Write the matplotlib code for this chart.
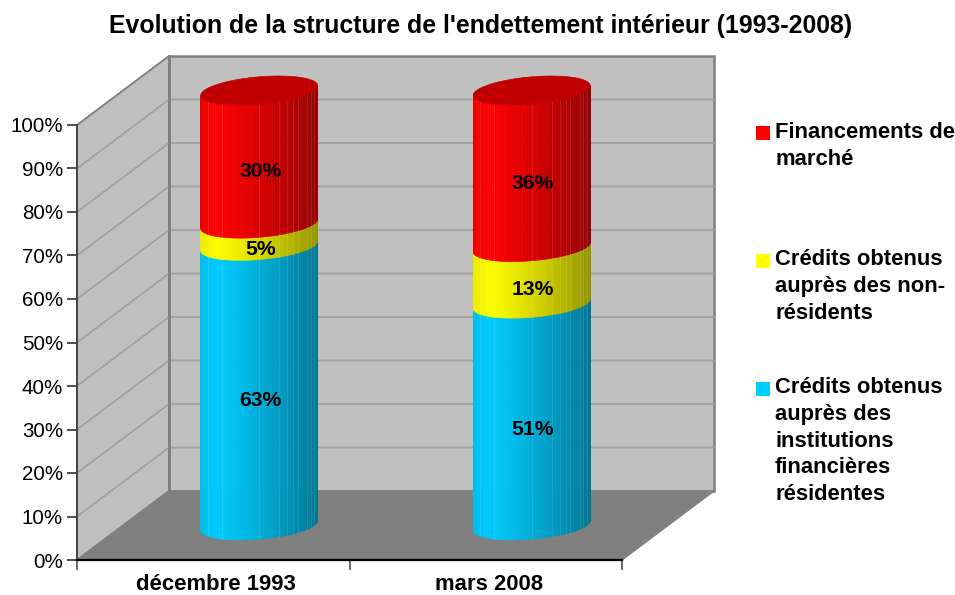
"""Stacked 100% cylinder chart drawn on a hand-made 3D projection."""
import numpy as np
import matplotlib
matplotlib.use("Agg")
import matplotlib.pyplot as plt
from matplotlib.patches import Polygon, Rectangle
from matplotlib.ticker import PercentFormatter

plt.rcParams["font.family"] = ["Liberation Sans", "DejaVu Sans"]

title = "Evolution de la structure de l'endettement intérieur (1993-2008)"
categories = ["décembre 1993", "mars 2008"]
residents = [63, 51]
non_residents = [5, 13]
market = [30, 36]
series = [residents, non_residents, market]
series_colors = [(0, 204, 255), (255, 255, 0), (255, 0, 0)]
legend_labels = [
    "Financements de\nmarché",
    "Crédits obtenus\nauprès des non-\nrésidents",
    "Crédits obtenus\nauprès des\ninstitutions\nfinancières\nrésidentes",
]
legend_colors = ["#ff0000", "#ffff00", "#00ccff"]
legend_tops = [122, 249, 377]   # text top, px from top of figure
square_tops = [126, 254, 382]

W, H = 955, 595
fig = plt.figure(figsize=(W / 100, H / 100), dpi=100, facecolor="white")
# axes = the front plane of the 3D box
L, R, T, B = 77, 622, 125, 560
ax = fig.add_axes([L / W, 1 - B / H, (R - L) / W, (B - T) / H])
ax.set_xlim(0, 2)
ax.set_ylim(0, 100)
ax.patch.set_visible(False)

# depth offset of the back wall, in data units
DX = 92 / ((R - L) / 2)
DY = 69 / ((B - T) / 100)
RAD_X, RAD_D = 0.2026, 0.21    # cylinder radius (x units, depth fraction)
SEAMS = [0.06, 0.18, 0.5, 0.67, 0.74, 0.79, 0.83, 0.91, 0.94, 0.97]


def proj(x, depth, v):
    return x + depth * DX, v + depth * DY


def add_poly(pts, **kw):
    ax.add_patch(Polygon(pts, closed=True, clip_on=False, **kw))


# walls and floor
wall = "#c0c0c0"
edge = "#808080"
add_poly([proj(0, 1, 0), proj(2, 1, 0), proj(2, 1, 100), proj(0, 1, 100)],
         fc=wall, ec=edge, lw=1.8, zorder=1)
add_poly([proj(0, 0, 0), proj(0, 1, 0), proj(0, 1, 100), proj(0, 0, 100)],
         fc=wall, ec=edge, lw=1.4, zorder=1)
add_poly([proj(0, 0, 0), proj(2, 0, 0), proj(2, 1, 0), proj(0, 1, 0)],
         fc=edge, ec=edge, lw=1, zorder=1.5)
for v in range(10, 100, 10):
    xs, ys = zip(proj(0, 0, v), proj(0, 1, v), proj(2, 1, v))
    ax.plot(xs, ys, color="#a0a0a0", lw=1.3, clip_on=False, zorder=1.2)
xs, ys = zip(proj(0, 1, 0), proj(0, 1, 100))
ax.plot(xs, ys, color=edge, lw=1.8, clip_on=False, zorder=1.3)


def surface(cx, t):
    depth = 0.5 - RAD_D * np.sin(t)
    return cx + RAD_X * np.cos(t) + depth * DX, depth


# silhouette angle of the projected cylinder
t0 = np.arctan(-RAD_D * DX / RAD_X)
ts = np.linspace(np.pi + t0, t0, 61)

for i, cat in enumerate(categories):
    cx = i + 0.5
    vals = [s[i] for s in series]
    tops = np.cumsum(vals) / sum(vals) * 100
    bots = np.r_[0, tops[:-1]]
    px, dep = surface(cx, ts)
    umin, umax = px.min(), px.max()
    for v0, v1, col in zip(bots, tops, series_colors):
        for k in range(len(ts) - 1):
            u = ((px[k] + px[k + 1]) / 2 - umin) / (umax - umin)
            shade = 0.93 + u * 0.5 if u < 0.12 else 1 - 0.42 * ((u - 0.12) / 0.88) ** 1.25
            c = tuple(min(1, ch / 255 * shade) for ch in col)
            pts = [(px[k], v0 + dep[k] * DY), (px[k + 1], v0 + dep[k + 1] * DY),
                   (px[k + 1], v1 + dep[k + 1] * DY), (px[k], v1 + dep[k] * DY)]
            add_poly(pts, fc=c, ec=c, lw=0.4, zorder=3)
        # faint facet seams
        for s in SEAMS:
            xs = umin + s * (umax - umin)
            d = np.interp(xs, px, dep)
            ax.plot([xs, xs], [v0 + d * DY, v1 + d * DY], color="white", alpha=0.1,
                    lw=0.8, clip_on=False, zorder=3.5)
    # labels on the front surface of the segments
    for val, v0, v1 in zip(vals, bots, tops):
        ax.annotate(f"{val}%", (cx + 0.5 * DX, (v0 + v1) / 2 + (0.5 - RAD_D) * DY),
                    xytext=(0.7, 0), textcoords="offset points",
                    ha="center", va="center", fontsize=15.2, fontweight="bold",
                    color="black", zorder=6)
    # top cap
    tt = np.linspace(0, 2 * np.pi, 90)
    capx, capd = surface(cx, tt)
    add_poly(list(zip(capx, 100 + capd * DY)), fc="#c00000", ec="#c00000", lw=0.5, zorder=4)
    # category label under the floor
    ax.annotate(cat, (cx, 0), xytext=(2.2, -21.4), textcoords="offset points", ha="center",
                va="baseline", fontsize=15.9, fontweight="bold", annotation_clip=False)

# axes
for side in ("top", "right"):
    ax.spines[side].set_visible(False)
ax.spines["left"].set_color("#404040")
ax.spines["left"].set_linewidth(1.3)
ax.spines["bottom"].set_color("black")
ax.spines["bottom"].set_linewidth(1.6)
for sp in ax.spines.values():
    sp.set_zorder(2)
ax.set_yticks(np.arange(0, 101, 10))
ax.yaxis.set_major_formatter(PercentFormatter(decimals=0))
ax.tick_params(axis="y", length=7.5, width=1.3, color="#404040", labelsize=14.8, pad=2.5)
ax.set_xticks([0, 1, 2])
ax.set_xticklabels([])
ax.tick_params(axis="x", which="major", length=7.5, width=1.2, color="#505050")

fig.text(481 / W, 1 - 26 / H, title, ha="center", va="center", fontsize=17.9, fontweight="bold")

# legend
for lab, col, top, sq in zip(legend_labels, legend_colors, legend_tops, square_tops):
    fig.add_artist(Rectangle((756 / W, 1 - (sq + 14) / H), 14 / W, 14 / H, fc=col, ec="none",
                             transform=fig.transFigure))
    fig.text(775 / W, 1 - top / H, lab, ha="left", va="top", fontsize=15.8, fontweight="bold",
             linespacing=1.36)

fig.savefig("out.png", dpi=100)
